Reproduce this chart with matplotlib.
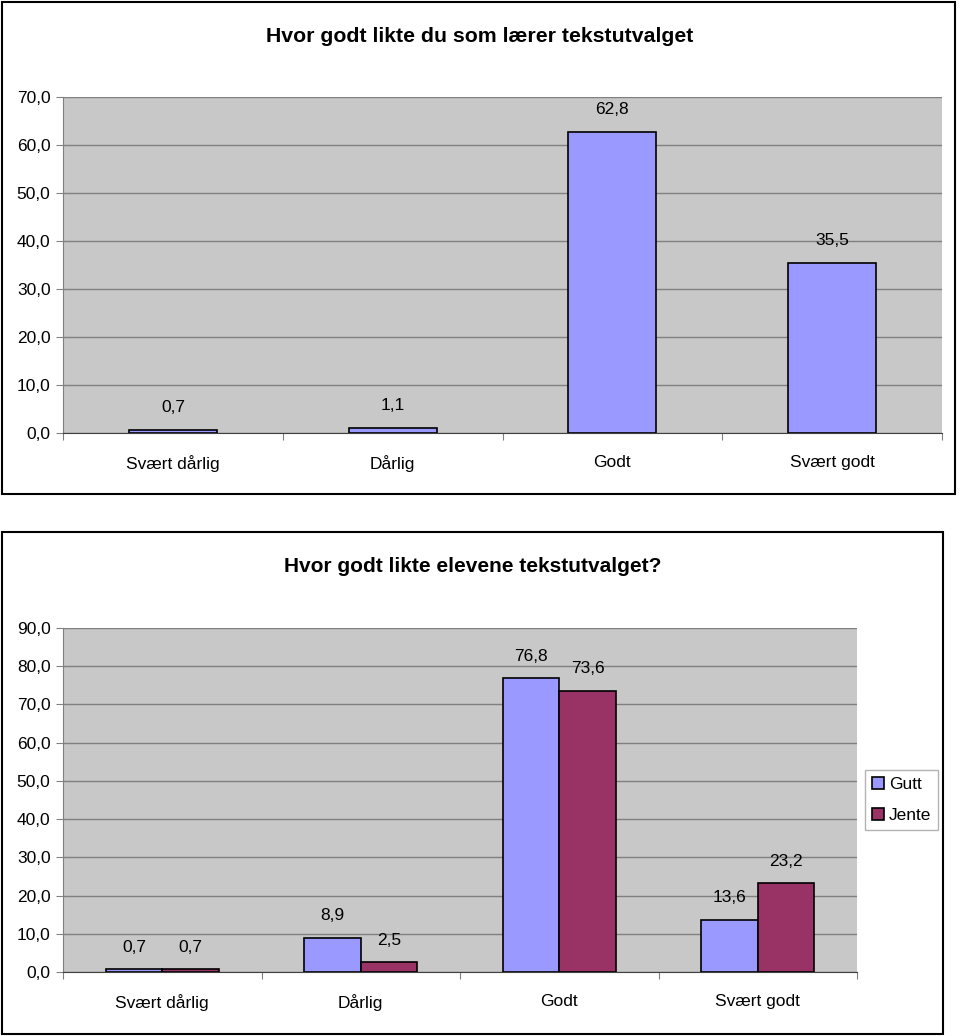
import numpy as np
import matplotlib.pyplot as plt
from matplotlib.patches import Rectangle

plt.rcParams['font.family'] = ['Liberation Sans', 'DejaVu Sans']

categories = ['Svært dårlig', 'Dårlig', 'Godt', 'Svært godt']

# chart 1: teacher
teacher_values = [0.7, 1.1, 62.8, 35.5]
teacher_title = 'Hvor godt likte du som lærer tekstutvalget'

# chart 2: pupils by gender
gutt_values = [0.7, 8.9, 76.8, 13.6]
jente_values = [0.7, 2.5, 73.6, 23.2]
pupil_title = 'Hvor godt likte elevene tekstutvalget?'

BG = '#C8C8C8'
GUTT = '#9999FF'
JENTE = '#993366'
GRID = '#808080'
FS = 12.5


def fmt(v):
    return f'{v:.1f}'.replace('.', ',')


def style_axis(ax, ymax, step):
    ax.set_facecolor(BG)
    ax.set_xlim(0, len(categories))
    ax.set_ylim(0, ymax)
    ax.set_yticks(np.arange(0, ymax + 0.1, step))
    ax.set_yticklabels([fmt(v) for v in np.arange(0, ymax + 0.1, step)], fontsize=FS)
    ax.yaxis.grid(True, color=GRID, linewidth=1)
    ax.set_axisbelow(True)
    # ticks at category borders, labels at centres
    ax.set_xticks(np.arange(0, len(categories) + 1))
    ax.set_xticklabels([])
    ax.set_xticks(np.arange(len(categories)) + 0.5, minor=True)
    ax.set_xticklabels(categories, minor=True, fontsize=FS)
    ax.tick_params(axis='x', which='minor', length=0, pad=16)
    ax.tick_params(axis='x', which='major', length=5, color=GRID)
    ax.tick_params(axis='y', length=5, color=GRID, pad=4)
    for s in ['top', 'right']:
        ax.spines[s].set_visible(False)
    ax.spines['left'].set_color(GRID)
    ax.spines['bottom'].set_color('#404040')


fig = plt.figure(figsize=(9.6, 10.36), dpi=100)

# outer frames
fig.add_artist(Rectangle((2 / 960, 1 - 494 / 1036), 953 / 960, 492 / 1036,
                         transform=fig.transFigure, fill=False, edgecolor='black', linewidth=1.5))
fig.add_artist(Rectangle((2 / 960, 1 - 1034 / 1036), 941 / 960, 502 / 1036,
                         transform=fig.transFigure, fill=False, edgecolor='black', linewidth=1.5))

# ---- chart 1
ax1 = fig.add_axes([63 / 960, 1 - 433 / 1036, 879 / 960, 336 / 1036])
style_axis(ax1, 70, 10)
x = np.arange(len(categories)) + 0.5
b1 = ax1.bar(x, teacher_values, width=0.4, color=GUTT, edgecolor='black', linewidth=1.2)
for xi, v in zip(x, teacher_values):
    ax1.annotate(fmt(v), (xi, v), xytext=(0, 16), textcoords='offset points',
                 ha='center', va='center', fontsize=FS)
fig.text(480 / 960, 1 - 36 / 1036, teacher_title, ha='center', va='center',
         fontsize=15.3, fontweight='bold')

# ---- chart 2
ax2 = fig.add_axes([63 / 960, 1 - 972 / 1036, 794 / 960, 344 / 1036])
style_axis(ax2, 90, 10)
w = 0.285
bg = ax2.bar(x - w / 2, gutt_values, width=w, color=GUTT, edgecolor='black',
             linewidth=1.2, label='Gutt')
bj = ax2.bar(x + w / 2, jente_values, width=w, color=JENTE, edgecolor='black',
             linewidth=1.2, label='Jente')
for xi, v in zip(x - w / 2, gutt_values):
    ax2.annotate(fmt(v), (xi, v), xytext=(0, 16), textcoords='offset points',
                 ha='center', va='center', fontsize=FS)
for xi, v in zip(x + w / 2, jente_values):
    ax2.annotate(fmt(v), (xi, v), xytext=(0, 16), textcoords='offset points',
                 ha='center', va='center', fontsize=FS)
fig.text(473 / 960, 1 - 566 / 1036, pupil_title, ha='center', va='center',
         fontsize=15, fontweight='bold')

leg = fig.legend(handles=[bg, bj], loc='center right',
                 bbox_to_anchor=(938 / 960, 1 - 800 / 1036), fontsize=FS,
                 frameon=True, fancybox=False, handlelength=0.7, handleheight=0.7,
                 handletextpad=0.25, borderpad=0.4, labelspacing=0.9, borderaxespad=0)
leg.get_frame().set_edgecolor('#A0A0A0')
leg.get_frame().set_linewidth(1)

fig.savefig('out.png', dpi=100)
